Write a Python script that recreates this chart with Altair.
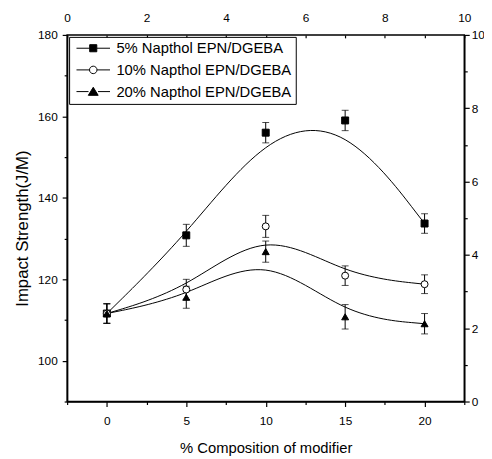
import altair as alt
import pandas as pd

# ---------------- data ----------------
x_values = [0, 5, 10, 15, 20]
series_names = ["5% Napthol EPN/DGEBA", "10% Napthol EPN/DGEBA", "20% Napthol EPN/DGEBA"]
impact_5 = [111.6, 130.8, 156.0, 159.0, 133.7]
err_5 = [2.4, 2.7, 2.5, 2.5, 2.4]
impact_10 = [111.6, 117.5, 133.0, 120.9, 118.8]
err_10 = [2.4, 2.5, 2.7, 2.4, 2.3]
impact_20 = [111.6, 115.6, 126.8, 110.8, 109.1]
err_20 = [2.4, 2.7, 2.6, 3.0, 2.5]

x_major_ticks = [0, 5, 10, 15, 20]
x_minor_ticks = [-2.5, 2.5, 7.5, 12.5, 17.5, 22.5]
y_major_ticks = [100, 120, 140, 160, 180]
y_minor_ticks = [90, 110, 130, 150, 170]
sec_major_ticks = [0, 2, 4, 6, 8, 10]
sec_minor_ticks = [1, 3, 5, 7, 9]
sec_range = [0, 10]

FONT = "Liberation Sans"

rows = []
for name, ys, es in zip(series_names, [impact_5, impact_10, impact_20], [err_5, err_10, err_20]):
    for xv, yv, ev in zip(x_values, ys, es):
        rows.append({"series": name, "x": xv, "y": yv, "lo": yv - ev, "hi": yv + ev})
df = pd.DataFrame(rows)
sec_df = pd.DataFrame({"t": sec_range, "r": sec_range})

xs = alt.Scale(domain=[-2.5, 22.5], nice=False, zero=False)
ys = alt.Scale(domain=[90, 180], nice=False, zero=False)
ss = alt.Scale(domain=sec_range, nice=False, zero=False)

base = alt.Chart(df)

# fitted B-spline curves
lines = base.mark_line(interpolate="basis", color="black", strokeWidth=1).encode(
    x=alt.X("x:Q", scale=xs, axis=alt.Axis(
        orient="bottom", values=x_major_ticks, tickSize=5, labelPadding=9,
        labelFlush=False, title="% Composition of modifier", titleFontSize=15,
        titleFontWeight="normal", titlePadding=15)),
    y=alt.Y("y:Q", scale=ys, axis=alt.Axis(
        orient="left", values=y_major_ticks, tickSize=5, labelPadding=5,
        labelFlush=False, title="Impact Strength(J/M)", titleFontSize=17,
        titleFontWeight="normal", titlePadding=6, titleY=196)),
    detail="series:N",
)

# error bars
err_rules = base.mark_rule(color="black", strokeWidth=1).encode(
    x=alt.X("x:Q", scale=xs, axis=alt.Axis(
        orient="bottom", values=x_minor_ticks, tickSize=3, labels=False,
        domain=False, title=None)),
    y=alt.Y("lo:Q", scale=ys, axis=alt.Axis(
        orient="left", values=y_minor_ticks, tickSize=3, labels=False,
        domain=False, title=None)),
    y2="hi:Q",
)
cap_hi = base.mark_tick(orient="horizontal", size=7, thickness=1, color="black").encode(
    x=alt.X("x:Q", scale=xs, axis=None),
    y=alt.Y("hi:Q", scale=ys, axis=None),
)
cap_lo = base.mark_tick(orient="horizontal", size=7, thickness=1, color="black").encode(
    x=alt.X("x:Q", scale=xs, axis=None),
    y=alt.Y("lo:Q", scale=ys, axis=None),
)

# markers
points = base.mark_point(stroke="black", strokeWidth=1, opacity=1).encode(
    x=alt.X("x:Q", scale=xs, axis=None),
    y=alt.Y("y:Q", scale=ys, axis=None),
    shape=alt.Shape("series:N", scale=alt.Scale(domain=series_names,
                    range=["square", "circle", "triangle-up"]), legend=None),
    fill=alt.Fill("series:N", scale=alt.Scale(domain=series_names,
                  range=["black", "white", "black"]), legend=None),
    size=alt.Size("series:N", scale=alt.Scale(domain=series_names,
                  range=[50, 50, 75]), legend=None),
)

# legend (line - marker - line symbols)
sym_square = "M-4.25,0H-0.9M0.9,0H4.25M-0.9,-0.9H0.9V0.9H-0.9Z"
sym_circle = "M-4.25,0H-0.95M0.95,0H4.25M-0.95,0A0.95,0.95 0 1,1 0.95,0A0.95,0.95 0 1,1 -0.95,0Z"
sym_tri = "M-4.25,0H-1.2M1.2,0H4.25M0,-1.1L1.25,0.95L-1.25,0.95Z"
legend_def = alt.Legend(
    title=None, orient="none", legendX=2, legendY=2, direction="vertical",
    padding=4, rowPadding=6, symbolSize=64, symbolStrokeColor="black",
    symbolStrokeWidth=1, symbolOpacity=1, symbolOffset=13, labelOffset=16,
    labelFont=FONT, labelFontSize=15, labelColor="black", labelLimit=400,
    strokeColor="black", fillColor="white", cornerRadius=0,
)
legend_layer = base.mark_point(opacity=0, strokeWidth=1).encode(
    x=alt.X("x:Q", scale=xs, axis=None),
    y=alt.Y("y:Q", scale=ys, axis=None),
    shape=alt.Shape("series:N", scale=alt.Scale(domain=series_names,
                    range=[sym_square, sym_circle, sym_tri]), legend=legend_def),
    fill=alt.Fill("series:N", scale=alt.Scale(domain=series_names,
                  range=["black", "white", "black"]), legend=legend_def),
    stroke=alt.Stroke("series:N", scale=alt.Scale(domain=series_names,
                      range=["black", "black", "black"]), legend=legend_def),
)

# secondary (top / right) axes
sec_major = alt.Chart(sec_df).mark_point(opacity=0).encode(
    x=alt.X("t:Q", scale=ss, axis=alt.Axis(
        orient="top", values=sec_major_ticks, tickSize=3, offset=-3, domain=False,
        labelPadding=11, labelFlush=False, title=None)),
    y=alt.Y("r:Q", scale=ss, axis=alt.Axis(
        orient="right", values=sec_major_ticks, tickSize=5, labelPadding=2,
        labelFlush=False, title=None)),
)
sec_minor = alt.Chart(sec_df).mark_point(opacity=0).encode(
    x=alt.X("t:Q", scale=ss, axis=alt.Axis(
        orient="top", values=sec_minor_ticks, tickSize=3, offset=-3, domain=False,
        labels=False, title=None)),
    y=alt.Y("r:Q", scale=ss, axis=alt.Axis(
        orient="right", values=sec_minor_ticks, tickSize=3, labels=False,
        domain=False, title=None)),
)

chart = alt.layer(
    lines, err_rules, cap_hi, cap_lo, points, legend_layer, sec_major, sec_minor
).resolve_scale(
    x="independent", y="independent", shape="independent",
    fill="independent", size="independent", stroke="independent"
).properties(
    width=403, height=372,
    autosize=alt.AutoSizeParams(type="none"),
    padding={"left": 60, "top": 24, "right": 20, "bottom": 55},
).configure(
    font=FONT
).configure_view(
    stroke="black", strokeWidth=1.5
).configure_axis(
    grid=False, domainColor="black", domainWidth=1.5, tickColor="black",
    tickWidth=1.2, labelColor="black", titleColor="black", labelFont=FONT,
    titleFont=FONT, labelFontSize=12,
)

chart.save("out.html", embed_options={"renderer": "svg", "actions": False})
